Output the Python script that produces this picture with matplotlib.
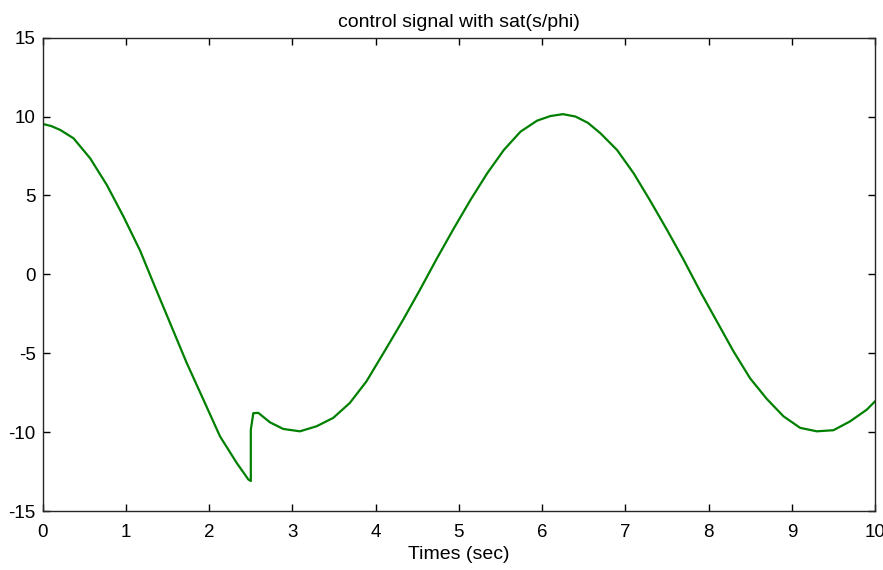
import matplotlib
matplotlib.use("Agg")
import matplotlib.pyplot as plt

t = [0.0, 0.1, 0.21, 0.37, 0.57, 0.77, 0.97, 1.17, 1.33, 1.53, 1.73, 1.93,
     2.13, 2.33, 2.47, 2.5, 2.5, 2.53, 2.59, 2.73, 2.89, 3.09, 3.29, 3.49,
     3.69, 3.89, 4.13, 4.33, 4.53, 4.73, 4.94, 5.14, 5.34, 5.54, 5.74, 5.94,
     6.1, 6.25, 6.4, 6.55, 6.7, 6.9, 7.1, 7.3, 7.5, 7.7, 7.9, 8.1, 8.3, 8.5,
     8.7, 8.9, 9.1, 9.3, 9.5, 9.7, 9.9, 10.0]
u = [9.53, 9.4, 9.15, 8.62, 7.35, 5.66, 3.66, 1.5, -0.56, -3.09, -5.62, -7.94,
     -10.27, -11.95, -13.0, -13.1, -9.85, -8.8, -8.78, -9.38, -9.8, -9.95, -9.63, -9.1,
     -8.15, -6.78, -4.67, -2.88, -1.0, 0.95, 2.92, 4.72, 6.4, 7.88, 9.04, 9.74,
     10.03, 10.15, 10.0, 9.6, 8.94, 7.88, 6.4, 4.65, 2.82, 0.92, -1.09, -2.99, -4.89, -6.6,
     -7.9, -9.0, -9.73, -9.95, -9.88, -9.32, -8.58, -8.05]

xticks = list(range(0, 11))
yticks = [-15, -10, -5, 0, 5, 10, 15]

plt.rcParams['font.family'] = ['Liberation Sans', 'DejaVu Sans']
plt.rcParams['axes.unicode_minus'] = False
fig = plt.figure(figsize=(8.83, 5.70), dpi=100)
ax = fig.add_axes([0.0484, 0.1035, 0.9426, 0.8305])
ax.plot(t, u, color=(0, 0.5, 0), linewidth=1.6)
ax.set_xlim(0, 10)
ax.set_ylim(-15, 15)
ax.set_xticks(xticks)
ax.set_yticks(yticks)
ax.tick_params(direction='in', top=True, right=True, length=5, labelsize=13.5, width=1)
ax.tick_params(axis='x', pad=9)
ax.tick_params(axis='y', pad=5)
for s in ax.spines.values():
    s.set_linewidth(1.0)
    s.set_color('#262626')
ax.set_xlabel('Times (sec)', fontsize=14, labelpad=4)
ax.set_title('control signal with sat(s/phi)', fontsize=14, pad=8)
fig.savefig('out.png', dpi=100)
